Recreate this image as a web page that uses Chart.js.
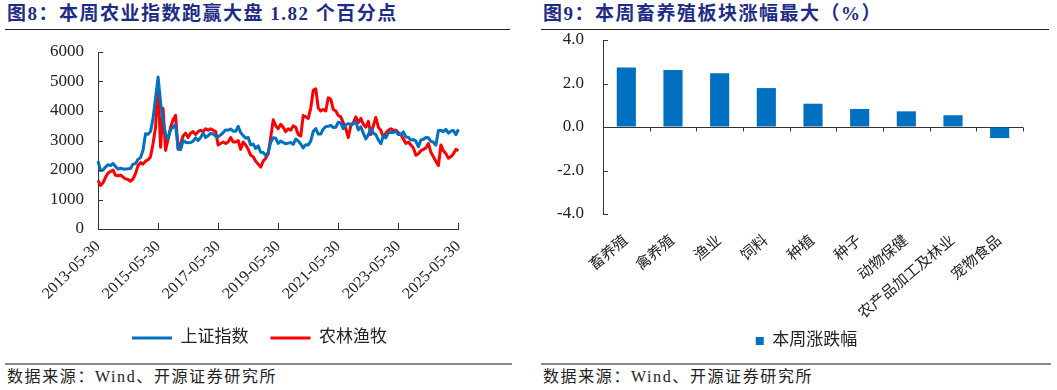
<!DOCTYPE html>
<html>
<head>
<meta charset="utf-8">
<script src="https://cdn.jsdelivr.net/npm/chart.js@4.4.1/dist/chart.umd.min.js"></script>
<style>
  body { margin: 0; width: 1057px; height: 390px; position: relative; background: #fff; overflow: hidden;
         font-family: "Liberation Serif", "Noto Sans CJK SC", serif; }
  .title { position: absolute; top: 4px; font-size: 19px; font-weight: bold; color: #1F2C85; line-height: 20px; letter-spacing: 1.5px; white-space: nowrap; }
  .rule { position: absolute; height: 0; border-top: 1.5px solid #222; }
  .rule.bottom { border-top: 2px solid #8c8c8c; }
  .src { position: absolute; top: 368px; font-size: 16px; color: #222; line-height: 18px; letter-spacing: 1.6px; white-space: nowrap; }
  canvas { position: absolute; }
</style>
</head>
<body>
<div class="title" style="left:7px">图8：本周农业指数跑赢大盘 1.82 个百分点</div>
<div class="title" style="left:543px">图9：本周畜养殖板块涨幅最大（%）</div>
<div class="rule" style="left:5px;width:505px;top:29px"></div>
<div class="rule" style="left:541px;width:508px;top:29px"></div>
<div class="rule bottom" style="left:5px;width:507px;top:363px"></div>
<div class="rule bottom" style="left:541px;width:510px;top:363px"></div>
<div class="src" style="left:7px">数据来源：Wind、开源证券研究所</div>
<div class="src" style="left:543px">数据来源：Wind、开源证券研究所</div>

<canvas id="lineChart" width="480" height="340" style="left:0;top:30px"></canvas>
<canvas id="barChart" width="517" height="330" style="left:540px;top:30px"></canvas>

<script>
// ---- 图8 data (monthly, 2013-05 .. 2025-05) ----
const tickDates = ["2013-05-30", "2015-05-30", "2017-05-30", "2019-05-30", "2021-05-30", "2023-05-30", "2025-05-30"];

const months = [];
for (let y = 2013; y <= 2025; y++) {
  for (let m = 1; m <= 12; m++) {
    if ((y === 2013 && m < 5) || (y === 2025 && m > 5)) continue;
    months.push(y + "-" + String(m).padStart(2, "0"));
  }
}

// 上证指数
const shIndex = [
  2300, 1980, 2000, 2100, 2180, 2150, 2220, 2120,
  2030, 2060, 2030, 2030, 2040, 2050, 2200, 2220, 2360, 2420, 2680, 3230,
  3210, 3310, 3750, 4440, 5150, 4280, 3660, 3210, 3050, 3380, 3450, 3540,
  2740, 2690, 3000, 2940, 2920, 2930, 2980, 3090, 3000, 3100, 3250, 3100,
  3160, 3240, 3220, 3150, 3120, 3190, 3270, 3360, 3350, 3390, 3320, 3310,
  3480, 3260, 3170, 3080, 3100, 2850, 2880, 2730, 2820, 2600, 2590, 2490,
  2590, 2940, 3090, 3080, 2900, 2980, 2930, 2890, 2910, 2930, 2870, 3050,
  2980, 2880, 2750, 2860, 2850, 2980, 3310, 3400, 3220, 3220, 3390, 3470,
  3480, 3510, 3440, 3450, 3620, 3590, 3400, 3540, 3570, 3550, 3560, 3640,
  3360, 3460, 3250, 3050, 3190, 3400, 3250, 3200, 3020, 2890, 3150, 3090,
  3260, 3280, 3270, 3320, 3200, 3200, 3290, 3120, 3110, 3020, 3030, 2980,
  2790, 3020, 3040, 3100, 3090, 2970, 2940, 2840, 3340, 3350, 3300, 3380,
  3250, 3320, 3340, 3200, 3380
];

// 农林渔牧
const agriIndex = [
  1650, 1480, 1560, 1750, 1900, 1950, 2000, 1820,
  1800, 1830, 1760, 1700, 1680, 1620, 1700, 1880, 2150, 2250, 2200, 2300,
  2350, 2450, 2900, 3450, 4950, 2770, 4090, 2660, 3050, 3450, 3700, 3850,
  2700, 2900, 3150, 3250, 3100, 3250, 3300, 3200, 3300, 3350, 3300, 3400,
  3350, 3400, 3350, 3300, 2850, 2900, 2950, 2900, 2950, 3100, 2950, 2950,
  3000, 2700, 2950, 2850, 2700, 2500, 2450, 2300, 2200, 2100, 2300, 2400,
  2550, 3100, 3700, 3500, 3400, 3550, 3450, 3300, 3400, 3350, 3500, 3450,
  3200, 3150, 3850, 3800, 3750, 4100, 4700, 4750, 4100, 4000, 4050, 4000,
  4450, 4400, 4050, 4000, 3850, 3800, 3600, 3400, 3100, 3500, 3600, 3800,
  3600, 3750, 3550, 3450, 3650, 3200, 3500, 3780, 3450, 3350, 3100, 3250,
  3350, 3400, 3350, 3350, 3270, 3200, 3050, 2900, 2950, 2850, 2750, 2500,
  2550, 2650, 2700, 2750, 2900, 2600, 2450, 2300, 2150, 2850, 2650, 2550,
  2400, 2450, 2550, 2700, 2650
];

// ---- 图9 data ----
const sectors = ["畜养殖", "禽养殖", "渔业", "饲料", "种植", "种子", "动物保健", "农产品加工及林业", "宠物食品"];
const weeklyChange = [2.73, 2.62, 2.47, 1.79, 1.07, 0.83, 0.72, 0.54, -0.51];

const axisColor = "#333";
Chart.defaults.font.family = '"Liberation Serif", "Noto Sans CJK SC", serif';
Chart.defaults.color = "#222";

// legend is centred on the canvas; nudge it to where the original sits
const moveLegend = (dx, dy) => ({
  id: "moveLegend",
  afterLayout(chart) {
    const l = chart.legend;
    l.left += dx; l.right += dx; l.top += dy; l.bottom += dy;
  }
});

// y axis: fixed width, and no extra room reserved above/below for its labels
const fixY = w => s => { s.width = w; s.paddingTop = 0; s.paddingBottom = 0; };

// ===== 图8 折线 =====
new Chart(document.getElementById("lineChart"), {
  type: "line",
  data: {
    labels: months,
    datasets: [
      { label: "上证指数", data: shIndex, borderColor: "#0070C0", backgroundColor: "#0070C0", borderWidth: 3, borderJoinStyle: "round", pointRadius: 0, tension: 0 },
      { label: "农林渔牧", data: agriIndex, borderColor: "#FF0000", backgroundColor: "#FF0000", borderWidth: 3, borderJoinStyle: "round", pointRadius: 0, tension: 0 }
    ]
  },
  options: {
    responsive: false,
    animation: false,
    layout: { padding: { left: 0, right: 21, top: 22, bottom: 2.5 } },
    scales: {
      x: {
        ticks: {
          autoSkip: false, minRotation: 45, maxRotation: 45, padding: 8, font: { size: 16 },
          callback(v) {
            const t = tickDates.find(d => d.startsWith(months[v]));
            return t || null;
          }
        },
        grid: { drawOnChartArea: false, drawTicks: false },
        border: { color: axisColor },
        afterFit: s => { s.height = 89.5; }
      },
      y: {
        min: 0, max: 6000,
        ticks: { stepSize: 1000, padding: 14, font: { size: 17 }, callback: v => String(v) },
        grid: { drawOnChartArea: false, drawTicks: false },
        border: { color: axisColor },
        afterFit: fixY(98)
      }
    },
    plugins: {
      tooltip: { enabled: false },
      legend: {
        position: "bottom",
        labels: {
          boxWidth: 40, boxHeight: 3, padding: 22, font: { size: 17 },
          generateLabels: chart => Chart.defaults.plugins.legend.labels.generateLabels(chart).map(l => ({ ...l, lineWidth: 0 }))
        }
      }
    }
  },
  plugins: [
    moveLegend(30, -11),
    {
      id: "innerTicks",
      afterDatasetsDraw(chart) {
        const { ctx, chartArea: a, scales: { x, y } } = chart;
        ctx.save();
        ctx.strokeStyle = axisColor;
        ctx.lineWidth = 1;
        ctx.beginPath();
        y.ticks.forEach((t, i) => {
          const py = Math.round(y.getPixelForTick(i)) + 0.5;
          ctx.moveTo(a.left, py); ctx.lineTo(a.left + 5, py);
        });
        tickDates.forEach(d => {
          const px = Math.round(x.getPixelForValue(months.indexOf(d.slice(0, 7)))) + 0.5;
          ctx.moveTo(px, a.bottom); ctx.lineTo(px, a.bottom - 6);
        });
        ctx.stroke();
        ctx.restore();
      }
    }
  ]
});

// ===== 图9 柱状 =====
new Chart(document.getElementById("barChart"), {
  type: "bar",
  data: {
    labels: sectors,
    datasets: [{
      label: "本周涨跌幅",
      data: weeklyChange,
      backgroundColor: "#0070C0",
      barPercentage: 0.41,
      categoryPercentage: 1.0
    }]
  },
  options: {
    responsive: false,
    animation: false,
    layout: { padding: { left: 0, right: 34, top: 10, bottom: 0.5 } },
    scales: {
      x: {
        ticks: { autoSkip: false, minRotation: 40, maxRotation: 40, padding: 10, font: { size: 15 } },
        grid: { display: false },
        border: { display: false },
        afterFit: s => { s.height = 108.5; }
      },
      y: {
        min: -4, max: 4,
        ticks: { stepSize: 2, padding: 19, font: { size: 17 }, callback: v => v.toFixed(1) },
        grid: { drawTicks: false, color: c => (c.tick && c.tick.value === 0 ? axisColor : "transparent") },
        border: { color: axisColor },
        afterFit: fixY(63)
      }
    },
    plugins: {
      tooltip: { enabled: false },
      legend: {
        position: "bottom",
        labels: { boxWidth: 8, boxHeight: 8, padding: 10, font: { size: 17 } }
      }
    }
  },
  plugins: [
    moveLegend(25, 0),
    {
      id: "innerTicks",
      afterDatasetsDraw(chart) {
        const { ctx, chartArea: a, scales: { x, y } } = chart;
        const zero = Math.round(y.getPixelForValue(0)) + 0.5;
        ctx.save();
        ctx.strokeStyle = axisColor;
        ctx.lineWidth = 1;
        ctx.beginPath();
        y.ticks.forEach((t, i) => {
          const py = Math.round(y.getPixelForTick(i)) + 0.5;
          ctx.moveTo(a.left, py); ctx.lineTo(a.left + 5, py);
        });
        for (let i = 1; i <= sectors.length; i++) {
          const px = Math.round(i < sectors.length
            ? (x.getPixelForValue(i - 1) + x.getPixelForValue(i)) / 2
            : a.right) + 0.5;
          ctx.moveTo(px, zero); ctx.lineTo(px, zero + 4);
        }
        ctx.stroke();
        ctx.restore();
      }
    }
  ]
});
</script>
</body>
</html>
